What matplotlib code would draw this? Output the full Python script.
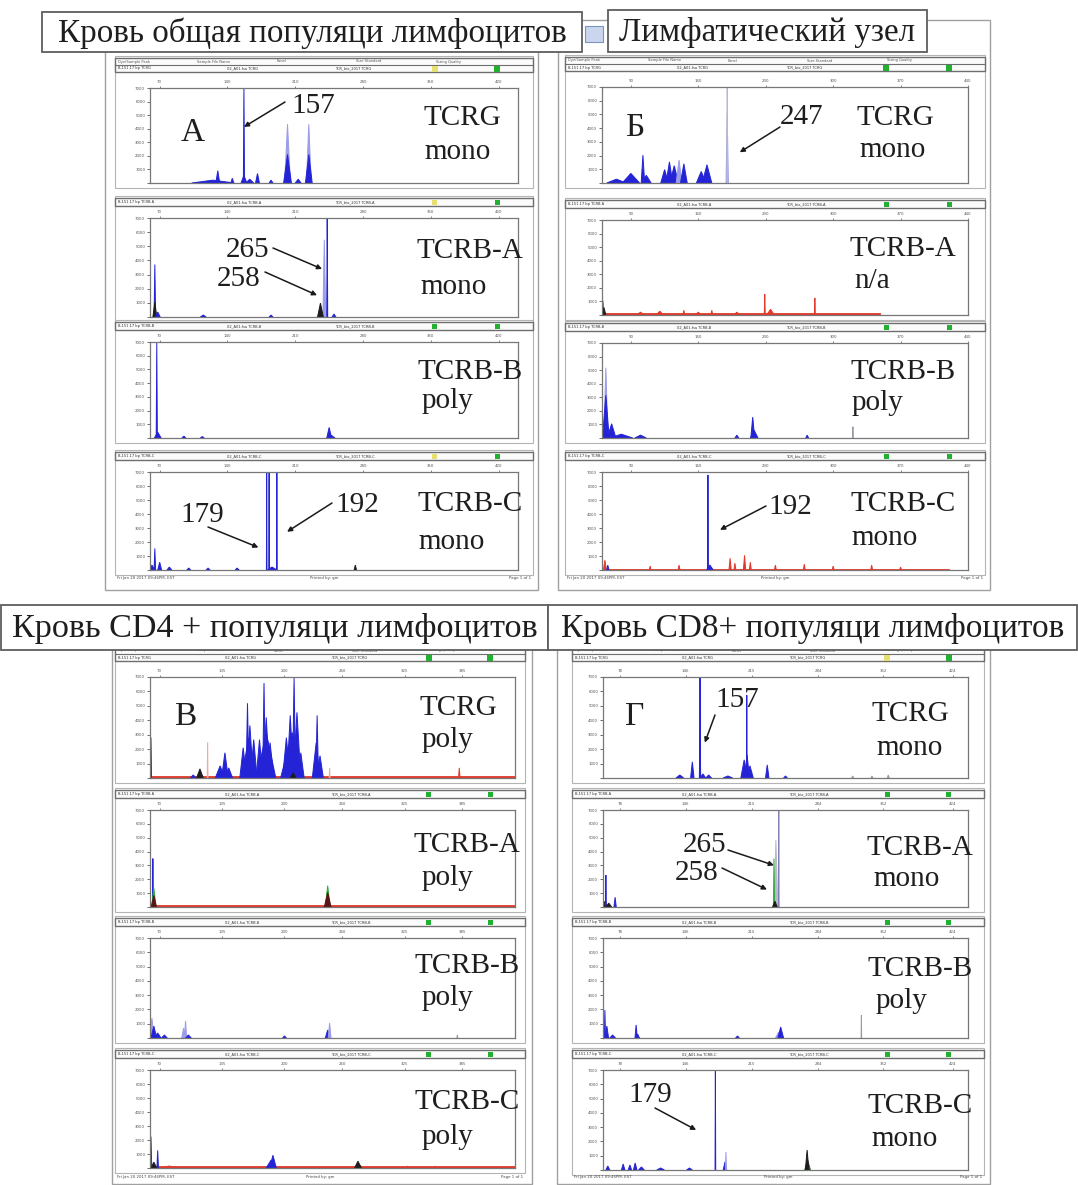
import matplotlib
matplotlib.use("Agg")
import matplotlib.pyplot as plt
from matplotlib.patches import Rectangle

# ======================= DATA =======================
panel_titles = ["Кровь общая популяци лимфоцитов", "Лимфатический узел",
                "Кровь CD4 + популяци лимфоцитов", "Кровь CD8+ популяци лимфоцитов"]
panel_letters = ["А", "Б", "В", "Г"]
targets = ["TCRG", "TCRB-A", "TCRB-B", "TCRB-C"]
result_A = ["mono", "mono", "poly", "mono"]
result_B = ["mono", "n/a", "poly", "mono"]
result_V = ["poly", "poly", "poly", "poly"]
result_G = ["mono", "mono", "poly", "mono"]

size_range = (60, 440)                       # fragment size axis (bp)
ticks_A = [70, 140, 210, 280, 350, 420]
ticks_B = [90, 160, 230, 300, 370, 440]
ticks_V = [70, 135, 200, 260, 325, 385]
ticks_G = [78, 146, 215, 284, 352, 424]
height_ticks = [0, 1000, 2000, 3000, 4000, 5000, 6000, 7000]
height_max = 7000

# peaks: (size bp, relative height, half width bp, dye)
A_TCRG = [(125, 0.03, 22, 'b'), (130, 0.13, 2.0, 'b'), (145, 0.05, 1.5, 'b'),
          (157, 0.08, 3, 'b'), (157, 1.00, 0.6, 'b'), (163, 0.04, 4, 'b'),
          (171, 0.10, 2.0, 'b'), (185, 0.03, 2, 'b'), (202, 0.62, 3.0, 'lb'),
          (202, 0.30, 4.0, 'b'), (213, 0.04, 3, 'b'), (224, 0.62, 2.5, 'lb'),
          (224, 0.30, 3.5, 'b')]
A_TCRBA = [(65, 0.53, 0.8, 'b'), (65, 0.15, 2.0, 'k'), (68, 0.05, 2.5, 'b'),
           (115, 0.02, 3, 'b'), (185, 0.02, 2, 'b'), (240, 0.78, 1.5, 'lb'),
           (236, 0.14, 3.0, 'k'), (243, 1.00, 0.5, 'b'), (250, 0.03, 2, 'b')]
A_TCRBB = [(67, 1.00, 0.6, 'b'), (68, 0.06, 3.5, 'b'), (95, 0.02, 2, 'b'),
           (114, 0.015, 2, 'b'), (247, 0.03, 4, 'b'), (245, 0.11, 2.5, 'b')]
A_TCRBC = [(62, 0.05, 3, 'b'), (65, 0.22, 0.8, 'b'), (70, 0.08, 2.0, 'b'),
           (80, 0.03, 2.5, 'b'), (100, 0.02, 2, 'b'), (120, 0.02, 2, 'b'),
           (150, 0.02, 2, 'b'), (186, 0.03, 5, 'b'), (180.5, 1.05, 0.3, 'b'),
           (183, 1.05, 0.3, 'b'), (191, 1.05, 0.35, 'b'), (272, 0.05, 1.2, 'k')]

B_TCRG = [(75, 0.04, 10, 'b'), (90, 0.10, 9, 'b'), (106, 0.08, 5, 'b'),
          (102.5, 0.29, 1.8, 'b'), (125, 0.14, 4, 'b'), (130, 0.22, 3.5, 'b'),
          (135, 0.18, 4.5, 'b'), (140, 0.24, 3.0, 'lb'), (145, 0.20, 3.5, 'b'),
          (163, 0.12, 5, 'b'), (169, 0.19, 5, 'b'), (190, 0.72, 1.2, 'lb'),
          (190, 1.00, 0.25, 'sl')]
B_TCRBA = [(61, 0.15, 1.2, 'r'), (62, 0.08, 2, 'k'), (100, 0.03, 4, 'r'),
           (120, 0.04, 4, 'r'), (145, 0.05, 1, 'r'), (160, 0.03, 3, 'r'),
           (174, 0.05, 1, 'r'), (200, 0.03, 3, 'r'), (229, 0.22, 0.5, 'r'),
           (235, 0.06, 4, 'r'), (281, 0.18, 0.5, 'r')]
B_TCRBB = [(64, 0.74, 2.2, 'lb'), (64, 0.45, 3.5, 'b'), (70, 0.15, 4.5, 'b'),
           (80, 0.04, 12, 'b'), (100, 0.03, 6, 'b'), (200, 0.03, 2, 'b'),
           (216.5, 0.22, 2.0, 'b'), (218, 0.08, 4, 'b'), (273, 0.03, 1.5, 'b'),
           (320.5, 0.12, 0.3, 'gr')]
B_TCRBC = [(63, 0.10, 1.5, 'r'), (66, 0.05, 1.2, 'b'), (110, 0.04, 1, 'r'),
           (140, 0.05, 1, 'r'), (172, 0.05, 3.5, 'b'), (170, 0.97, 0.5, 'b'),
           (193, 0.12, 1.2, 'r'), (198, 0.07, 1, 'r'), (208, 0.15, 1.2, 'r'),
           (214, 0.08, 1, 'r'), (240, 0.05, 1, 'r'), (270, 0.06, 1, 'r'),
           (300, 0.04, 1, 'r'), (340, 0.05, 1, 'r'), (370, 0.03, 1, 'r')]

V_TCRG = [(61, 0.40, 0.6, 'b'), (105, 0.03, 3, 'b'), (112, 0.09, 3.5, 'k'),
          (120, 0.35, 0.4, 'pr'), (133, 0.12, 5, 'b'), (138, 0.25, 3.5, 'b'),
          (142, 0.10, 4, 'b'), (163, 0.40, 8, 'b'), (157, 0.30, 3.5, 'b'),
          (161.5, 0.74, 1.5, 'b'), (164, 0.52, 3.5, 'b'), (168, 0.38, 3.5, 'b'),
          (181, 0.45, 10, 'b'), (174, 0.38, 3.5, 'b'), (178.7, 0.94, 1.4, 'b'),
          (181, 0.60, 3.5, 'b'), (185, 0.35, 4, 'b'), (208, 0.45, 12, 'b'),
          (202, 0.40, 4, 'b'), (206, 0.62, 3.5, 'b'), (210, 0.99, 1.6, 'b'),
          (213, 0.65, 4, 'b'), (217, 0.25, 3.5, 'b'), (209, 0.05, 3, 'k'),
          (233, 0.35, 4, 'b'), (234, 0.62, 1.4, 'b'), (237, 0.22, 3.5, 'b'),
          (247, 0.10, 0.5, 'pr'), (382, 0.10, 0.8, 'r')]
V_TCRBA = [(63, 0.50, 0.5, 'b'), (64, 0.20, 2.2, 'g'), (64, 0.12, 2.8, 'dr'),
           (245, 0.22, 2.5, 'g'), (245, 0.15, 3.5, 'dr')]
V_TCRBB = [(62, 0.20, 2.0, 'lb'), (64, 0.12, 3.0, 'b'), (68, 0.05, 3.5, 'b'),
           (75, 0.03, 3, 'b'), (95, 0.10, 2.0, 'lb'), (97, 0.17, 1.2, 'lb'),
           (100, 0.03, 3, 'b'), (200, 0.02, 2, 'b'), (245, 0.08, 2.5, 'b'),
           (247, 0.15, 1.5, 'lb'), (380, 0.03, 0.5, 'gr')]
V_TCRBC = [(61, 0.32, 0.8, 'b'), (68, 0.18, 0.8, 'b'), (64, 0.06, 3, 'k'),
           (80, 0.02, 10, 'r'), (186, 0.08, 5, 'b'), (188, 0.13, 3.5, 'b'),
           (278, 0.03, 4, 'r'), (276.5, 0.07, 3.5, 'k'), (328, 0.02, 1, 'r'),
           (357, 0.02, 1, 'r')]

G_TCRG = [(140, 0.03, 4, 'b'), (153, 0.16, 1.8, 'b'), (161, 0.45, 0.7, 'b'),
          (161, 1.00, 0.3, 'b'), (164, 0.04, 3, 'b'), (170, 0.03, 3, 'b'),
          (190, 0.02, 5, 'b'), (207, 0.18, 3.5, 'b'), (210, 0.23, 2.5, 'b'),
          (213, 0.12, 3.5, 'b'), (209.7, 0.82, 0.35, 'b'), (231, 0.13, 1.8, 'b'),
          (250, 0.02, 2, 'b'), (320, 0.02, 1, 'gr'), (340, 0.02, 1, 'gr'),
          (357, 0.03, 1, 'gr')]
G_TCRBA = [(62, 0.06, 2, 'k'), (63, 0.33, 0.5, 'b'), (66, 0.04, 3, 'k'),
           (72.6, 0.10, 1.2, 'b'), (240, 0.69, 2.0, 'sl'), (238, 0.50, 0.6, 'g'),
           (239, 0.06, 2.5, 'k'), (243, 1.00, 0.3, 'gb')]
G_TCRBB = [(62, 0.28, 0.6, 'b'), (64, 0.12, 1.8, 'b'), (70, 0.03, 3, 'b'),
           (94.5, 0.13, 1.2, 'b'), (96, 0.04, 2, 'b'), (200, 0.02, 2, 'b'),
           (243, 0.06, 3.5, 'lb'), (245, 0.11, 3.0, 'b'), (329, 0.23, 0.3, 'gr')]
G_TCRBC = [(65, 0.04, 2, 'b'), (81, 0.06, 1.8, 'b'), (88, 0.05, 1.8, 'b'),
           (93.5, 0.07, 1.8, 'b'), (100, 0.03, 3, 'b'), (120, 0.02, 4, 'b'),
           (150, 0.02, 3, 'b'), (177, 1.00, 0.35, 'b'), (187, 0.08, 1.8, 'b'),
           (188, 0.18, 0.6, 'lb'), (273, 0.10, 3.0, 'dg'), (272.5, 0.20, 1.8, 'k')]

# flat baselines: (from bp, to bp, relative level, dye)
B_TCRBA_base = [(60, 349, 0.02, 'r')]
B_TCRBC_base = [(60, 420, 0.012, 'r')]
V_base = [(60, 440, 0.018, 'r')]

# labelled peaks: (subplot, label, size bp, relative height at arrow tip)
ann_A = [(0, "157", 157, 0.59), (1, "265", 237.7, 0.485), (1, "258", 232.5, 0.22),
         (3, "179", 172, 0.23), (3, "192", 201.5, 0.39)]
ann_B = [(0, "247", 203, 0.32), (3, "192", 182.5, 0.41)]
ann_V = []
ann_G = [(0, "157", 166, 0.35), (1, "265", 238, 0.43), (1, "258", 230.7, 0.18),
         (3, "179", 157, 0.40)]

# ======================= STYLE / LAYOUT =======================
DYE = {'b': '#2424d6', 'lb': '#9c9ce8', 'k': '#1c1c1c', 'r': '#e23a2a',
       'pr': '#f2a8a0', 'g': '#2fae3a', 'dr': '#5c1414', 'gr': '#9a9aa6',
       'dg': '#2f5f2f', 'sl': '#b8b8cc', 'gb': '#8080b0'}
SQ = {'g': '#22b030', 'y': '#e6e070'}
TXT = '#1e1e1e'
SERIF = ['Liberation Serif', 'DejaVu Serif']
LBL = 21

W, H = 1078, 1185
fig = plt.figure(figsize=(W / 100, H / 100), dpi=100)
fig.patch.set_facecolor('white')


def px_axes(x0, y0, x1, y1, **kw):
    return fig.add_axes([x0 / W, 1 - y1 / H, (x1 - x0) / W, (y1 - y0) / H], **kw)


bg = px_axes(0, 0, W, H, zorder=0)
bg.set_xlim(0, W); bg.set_ylim(H, 0); bg.axis('off')
top = px_axes(0, 0, W, H, zorder=10)
top.set_xlim(0, W); top.set_ylim(H, 0); top.axis('off')

panels = [
    dict(frame=(105, 45, 538, 590), sub_x=(115, 533), box_x=(150, 518),
         boxes=[(88, 183), (218, 317), (342, 438), (472, 570)], footer=578,
         ticks=ticks_A, peaks=[A_TCRG, A_TCRBA, A_TCRBB, A_TCRBC],
         bases=[[], [], [], []], results=result_A, ann=ann_A,
         squares=[('y', 'g'), ('y', 'g'), ('g', 'g'), ('y', 'g')],
         letter_xy=(193, 133),
         tgt_xy=[(462, 118), (470, 251), (470, 372), (470, 504)],
         res_xy=[(458, 152), (454, 287), (447, 401), (452, 542)],
         ann_xy=[((313, 106), (285, 102)), ((248, 250), (273, 248)),
                 ((239, 279), (265, 272)), ((202, 515), (208, 527)),
                 ((357, 505), (332, 503))]),
    dict(frame=(558, 20, 990, 590), sub_x=(565, 985), box_x=(602, 968),
         boxes=[(87, 183), (220, 315), (343, 438), (472, 570)], footer=578,
         ticks=ticks_B, peaks=[B_TCRG, B_TCRBA, B_TCRBB, B_TCRBC],
         bases=[[], B_TCRBA_base, [], B_TCRBC_base], results=result_B, ann=ann_B,
         squares=[('g', 'g')] * 4,
         letter_xy=(635, 128),
         tgt_xy=[(895, 118), (903, 249), (903, 372), (903, 504)],
         res_xy=[(893, 150), (872, 281), (878, 403), (885, 538)],
         ann_xy=[((802, 117), (780, 127)), ((790, 507), (766, 506))]),
    dict(frame=(112, 648, 532, 1184), sub_x=(115, 525), box_x=(150, 515),
         boxes=[(677, 778), (810, 907), (938, 1038), (1070, 1168)], footer=1177,
         ticks=ticks_V, peaks=[V_TCRG, V_TCRBA, V_TCRBB, V_TCRBC],
         bases=[V_base, V_base, [], V_base], results=result_V, ann=ann_V,
         squares=[('g', 'g')] * 4,
         letter_xy=(185, 717),
         tgt_xy=[(458, 708), (467, 845), (467, 966), (467, 1102)],
         res_xy=[(448, 740), (448, 878), (448, 998), (448, 1137)],
         ann_xy=[]),
    dict(frame=(557, 648, 990, 1184), sub_x=(572, 984), box_x=(603, 968),
         boxes=[(677, 778), (810, 907), (938, 1038), (1070, 1170)], footer=1177,
         ticks=ticks_G, peaks=[G_TCRG, G_TCRBA, G_TCRBB, G_TCRBC],
         bases=[[], [], [], []], results=result_G, ann=ann_G,
         squares=[('y', 'g'), ('g', 'g'), ('g', 'g'), ('g', 'g')],
         letter_xy=(635, 717),
         tgt_xy=[(910, 714), (920, 848), (920, 969), (920, 1106)],
         res_xy=[(910, 748), (907, 879), (902, 1001), (905, 1139)],
         ann_xy=[((737, 700), (715, 715)), ((705, 845), (728, 850)),
                 ((697, 873), (722, 868)), ((650, 1095), (655, 1108))]),
]

header_cols = ["Dye/Sample Peak", "Sample File Name", "Panel", "Size Standard", "Sizing Quality"]
header_vals = ["B,151.17 bp", "02_A01.fsa", "TCR_bio_2017", "GS500LIZ", ""]

for pi, P in enumerate(panels):
    fx0, fy0, fx1, fy1 = P['frame']
    bg.add_patch(Rectangle((fx0, fy0), fx1 - fx0, fy1 - fy0, fill=False,
                           ec='#a0a0a0', lw=1.0, zorder=1))
    sx0, sx1 = P['sub_x']
    bx0, bx1 = P['box_x']
    axes = []
    for i, (by0, by1) in enumerate(P['boxes']):
        # header bar
        if i == 0:
            hy0, hy1 = by0 - 30, by0 - 16
        else:
            hy0, hy1 = by0 - 20, by0 - 12
        bg.add_patch(Rectangle((sx0, hy0 - 2), sx1 - sx0, by1 + 5 - (hy0 - 2),
                               fill=False, ec='#b4b4b4', lw=0.8, zorder=1))
        bg.add_patch(Rectangle((sx0, hy0), sx1 - sx0, hy1 - hy0, fc='#fbfbfb',
                               ec='#6e6e6e', lw=1.0, zorder=2))
        ty = (hy0 + hy1) / 2
        if i == 0:
            bg.plot([sx0, sx1], [ty, ty], color='#6e6e6e', lw=0.8, zorder=3)
            for j, c in enumerate(header_cols):
                bg.text(sx0 + 3 + j * (sx1 - sx0) * 0.19, (hy0 + ty) / 2, c,
                        fontsize=2.6, color='#555', va='center', zorder=4)
            vy = (ty + hy1) / 2
        else:
            vy = ty
        for j, c in enumerate(header_vals[:3]):
            bg.text(sx0 + 3 + j * (sx1 - sx0) * 0.26, vy, c + " " + targets[i],
                    fontsize=2.6, color='#333', va='center', zorder=4)
        for frac, key in zip((0.765, 0.915), P['squares'][i]):
            cx = sx0 + frac * (sx1 - sx0)
            s = 5 if i > 0 else 6
            bg.add_patch(Rectangle((cx - s / 2, vy - s / 2), s, s, fc=SQ[key],
                                   ec='none', zorder=4))

        # data axes
        ax = px_axes(bx0, by0, bx1, by1, zorder=5)
        ax.set_xlim(*size_range)
        ax.set_ylim(0, 1.0)
        for s0, s1, lvl, dye in P['bases'][i]:
            ax.fill_between([s0, s1], [0, 0], [lvl, lvl], color=DYE[dye], lw=0.6)
        for pos, h, hw, dye in P['peaks'][i]:
            c = DYE[dye]
            ax.fill([pos - hw, pos, pos + hw], [0, h, 0], color=c, ec=c, lw=0.7)
        ax.xaxis.tick_top()
        ax.set_xticks(P['ticks'])
        ax.set_xticklabels([str(t) for t in P['ticks']])
        ax.set_yticks([t / height_max for t in height_ticks])
        ax.set_yticklabels([str(t) if t else "" for t in height_ticks])
        ax.tick_params(axis='x', labelsize=2.8, length=1.5, pad=1.2, colors='#555',
                       width=0.5)
        ax.tick_params(axis='y', labelsize=2.8, length=2.5, pad=1, colors='#555',
                       width=0.6)
        for sp in ax.spines.values():
            sp.set_color('#777777'); sp.set_linewidth(0.9)

        # labels
        tx, tyy = P['tgt_xy'][i]
        top.text(tx, tyy, targets[i], fontsize=LBL, family=SERIF, color=TXT,
                 ha='center', va='center')
        rx, ry = P['res_xy'][i]
        top.text(rx, ry, P['results'][i], fontsize=LBL, family=SERIF, color=TXT,
                 ha='center', va='center')
        axes.append(ax)

    # annotations
    for (sub, lab, bp, hh), ((tx, tyy), (ax_, ay_)) in zip(P['ann'], P['ann_xy']):
        top.text(tx, tyy, lab, fontsize=LBL, family=SERIF, color=TXT,
                 ha='center', va='center')
        axes[sub].annotate('', xy=(bp, hh), xycoords='data',
                           xytext=(ax_, ay_), textcoords=top.transData,
                           annotation_clip=False,
                           arrowprops=dict(arrowstyle='-|>', color='#1a1a1a',
                                           lw=1.1, mutation_scale=7,
                                           shrinkA=0, shrinkB=0))
    lx, ly = P['letter_xy']
    top.text(lx, ly, panel_letters[pi], fontsize=24, family=SERIF,
             color=TXT, ha='center', va='center')
    # footer
    bg.text(sx0 + 2, P['footer'], "Fri Jan 20 2017 09:46PM, EST", fontsize=2.8,
            color='#444', va='center')
    bg.text((sx0 + sx1) / 2, P['footer'], "Printed by: gm", fontsize=2.8,
            color='#444', va='center', ha='center')
    bg.text(sx1 - 2, P['footer'], "Page 1 of 1", fontsize=2.8, color='#444',
            va='center', ha='right')

# small icon between the top titles
top.add_patch(Rectangle((585, 26), 18, 16, fc='#c9d6ee', ec='#7d93c2', lw=0.8))

# title boxes
title_boxes = [(42, 12, 582, 52), (608, 10, 927, 52), (1, 605, 548, 650), (548, 605, 1077, 650)]
title_widths = [510, 297, 525, 504]
renderer = fig.canvas.get_renderer()
for (x0, y0, x1, y1), t, tw in zip(title_boxes, panel_titles, title_widths):
    top.add_patch(Rectangle((x0, y0), x1 - x0, y1 - y0, fc='white', ec='#5e5e5e',
                            lw=1.3))
    txt = top.text((x0 + x1) / 2, (y0 + y1) / 2 + 1, t, fontsize=20, family=SERIF,
                   color=TXT, ha='center', va='center')
    bb = txt.get_window_extent(renderer)
    txt.set_fontsize(20 * tw / bb.width)

fig.savefig("out.png", dpi=100, facecolor='white')
